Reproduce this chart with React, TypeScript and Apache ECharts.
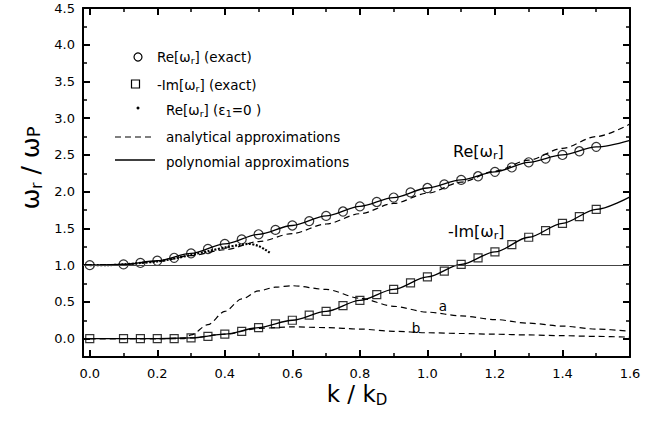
import React, { useEffect, useRef } from 'react';
import * as echarts from 'echarts';

const FONT = "'DejaVu Sans', sans-serif";
const W = 667;
const H = 422;
const X_MIN = -0.02;
const X_MAX = 1.6;
const Y_MIN = -0.25;
const Y_MAX = 4.5;

// labelled tick values
const xMajor = [0, 0.2, 0.4, 0.6, 0.8, 1.0, 1.2, 1.4, 1.6];
const yMajor = [0, 0.5, 1.0, 1.5, 2.0, 2.5, 3.0, 3.5, 4.0, 4.5];

// exact solutions
const kExact = [0, 0.1, 0.15, 0.2, 0.25, 0.3, 0.35, 0.4, 0.45, 0.5, 0.55, 0.6, 0.65, 0.7, 0.75, 0.8, 0.85, 0.9, 0.95, 1.0, 1.05, 1.1, 1.15, 1.2, 1.25, 1.3, 1.35, 1.4, 1.45, 1.5];
const reExact = [1.0, 1.01, 1.03, 1.06, 1.1, 1.16, 1.22, 1.29, 1.35, 1.42, 1.48, 1.54, 1.6, 1.67, 1.73, 1.8, 1.86, 1.92, 1.99, 2.05, 2.1, 2.16, 2.21, 2.27, 2.33, 2.4, 2.45, 2.5, 2.55, 2.61];
const imExact = [0, 0, 0, 0, 0, 0.01, 0.03, 0.06, 0.1, 0.15, 0.2, 0.25, 0.32, 0.37, 0.45, 0.52, 0.6, 0.67, 0.76, 0.84, 0.92, 1.01, 1.1, 1.18, 1.28, 1.38, 1.47, 1.57, 1.66, 1.76];

// polynomial and analytical approximations
const kFit = [0, 0.1, 0.2, 0.3, 0.4, 0.5, 0.6, 0.7, 0.8, 0.9, 1.0, 1.1, 1.2, 1.3, 1.4, 1.5, 1.6];
const rePoly = [1.0, 1.01, 1.06, 1.16, 1.29, 1.42, 1.54, 1.67, 1.8, 1.92, 2.05, 2.16, 2.27, 2.4, 2.5, 2.61, 2.7];
const imPoly = [0, 0, 0, 0.01, 0.06, 0.15, 0.25, 0.37, 0.52, 0.67, 0.84, 1.01, 1.18, 1.38, 1.57, 1.76, 1.93];
const reAnalytic = [1.0, 1.01, 1.05, 1.13, 1.21, 1.32, 1.43, 1.56, 1.7, 1.84, 1.98, 2.13, 2.28, 2.43, 2.59, 2.75, 2.92];

const kA = [0, 0.1, 0.2, 0.28, 0.3, 0.35, 0.4, 0.45, 0.5, 0.55, 0.6, 0.7, 0.8, 0.9, 1.0, 1.1, 1.2, 1.3, 1.4, 1.5, 1.6];
const imAnalyticA = [0, 0, 0, 0, 0.05, 0.19, 0.37, 0.54, 0.65, 0.7, 0.72, 0.67, 0.55, 0.44, 0.36, 0.31, 0.26, 0.21, 0.17, 0.13, 0.1];
const imAnalyticB = [0, 0, 0, 0.01, 0.06, 0.14, 0.16, 0.15, 0.13, 0.1, 0.08, 0.07, 0.06, 0.05, 0.04, 0.03, 0.02];

// Re[w] with eps1 = 0
const kEps0 = [0, 0.05, 0.1, 0.15, 0.2, 0.25, 0.3, 0.35, 0.4, 0.45, 0.47, 0.5, 0.52, 0.533];
const reEps0 = [1.0, 1.0, 1.01, 1.03, 1.05, 1.09, 1.14, 1.19, 1.24, 1.28, 1.29, 1.26, 1.21, 1.17];

const zip = (xs: number[], ys: number[]) => xs.map((x, i) => [x, ys[i]]);

const BLACK = '#000';

const frameLine = { show: true, onZero: false, lineStyle: { color: BLACK, width: 2 } };
const ticks = { show: true, inside: true, length: 7, lineStyle: { color: BLACK, width: 2 } };
const minor = { show: true, splitNumber: 2, length: 4, lineStyle: { color: BLACK, width: 1.5 } };
const axisBase = {
  type: 'value',
  splitLine: { show: false },
  minorSplitLine: { show: false },
  axisLine: frameLine,
  axisTick: ticks,
  minorTick: minor,
};
const tickLabel = (vals: number[], margin: number) => ({
  show: true,
  customValues: vals,
  formatter: (v: number) => v.toFixed(1),
  margin,
  fontSize: 13,
  fontFamily: FONT,
  color: BLACK,
});

const xAxisBase = { ...axisBase, min: X_MIN, max: X_MAX, splitNumber: 8 };
const yAxisBase = { ...axisBase, min: Y_MIN, max: Y_MAX, splitNumber: 10 };

const LEG = 13.5;
const rich13 = {
  m: { fontSize: LEG, fontFamily: FONT, fill: BLACK },
  s: { fontSize: 9.5, fontFamily: FONT, fill: BLACK, padding: [7, 0, 0, 0] },
};
const rich16 = {
  m: { fontSize: 16, fontFamily: FONT, fill: BLACK },
  s: { fontSize: 11, fontFamily: FONT, fill: BLACK, padding: [9, 0, 0, 0] },
};

const label = (x: number, y: number, text: string, rich: any, extra: any = {}) => ({
  type: 'text',
  x,
  y,
  ...extra,
  style: { text, rich, fill: BLACK, align: 'left', verticalAlign: 'middle', ...(extra.style || {}) },
});

const dashed = (data: number[][]) => ({
  type: 'line',
  data,
  smooth: 0.3,
  smoothMonotone: 'x',
  showSymbol: false,
  silent: true,
  lineStyle: { color: BLACK, width: 1.2, type: [6, 4] },
});

const option: any = {
  animation: false,
  backgroundColor: '#fff',
  grid: { left: 83, right: 37, top: 8, bottom: 65, containLabel: false },
  xAxis: [
    { ...xAxisBase, position: 'bottom', axisLabel: tickLabel(xMajor, 10) },
    { ...xAxisBase, position: 'top', axisLabel: { show: false } },
  ],
  yAxis: [
    { ...yAxisBase, position: 'left', axisLabel: tickLabel(yMajor, 8) },
    { ...yAxisBase, position: 'right', axisLabel: { show: false } },
  ],
  series: [
    {
      type: 'line',
      data: zip(kFit, rePoly),
      smooth: 0.3,
      smoothMonotone: 'x',
      showSymbol: false,
      silent: true,
      lineStyle: { color: BLACK, width: 1.3 },
      markLine: {
        silent: true,
        symbol: 'none',
        label: { show: false },
        lineStyle: { color: '#444', width: 1, type: 'solid' },
        data: [{ yAxis: 1 }],
      },
    },
    {
      type: 'line',
      data: zip(kFit, imPoly),
      smooth: 0.3,
      smoothMonotone: 'x',
      showSymbol: false,
      silent: true,
      lineStyle: { color: BLACK, width: 1.3 },
    },
    dashed(zip(kFit, reAnalytic)),
    dashed(zip(kA, imAnalyticA)),
    dashed(zip(kFit, imAnalyticB)),
    {
      type: 'line',
      data: zip(kEps0, reEps0),
      smooth: 0.3,
      showSymbol: false,
      silent: true,
      lineStyle: { color: BLACK, width: 2.2, type: [2, 1.5] },
    },
    {
      type: 'scatter',
      data: zip(kExact, reExact),
      symbol: 'circle',
      symbolSize: 9,
      silent: true,
      itemStyle: { color: 'rgba(0,0,0,0)', borderColor: BLACK, borderWidth: 1.2 },
    },
    {
      type: 'scatter',
      data: zip(kExact, imExact),
      symbol: 'rect',
      symbolSize: 8,
      silent: true,
      itemStyle: { color: 'rgba(0,0,0,0)', borderColor: BLACK, borderWidth: 1.2 },
    },
  ],
  graphic: [
    // legend
    { type: 'circle', shape: { cx: 138, cy: 57, r: 4 }, style: { fill: 'none', stroke: BLACK, lineWidth: 1.2 } },
    label(157, 57, '{m|Re[ω}{s|r}{m|] (exact)}', rich13),
    { type: 'rect', shape: { x: 131.5, y: 80, width: 8, height: 8 }, style: { fill: 'none', stroke: BLACK, lineWidth: 1.2 } },
    label(157, 85, '{m|-Im[ω}{s|r}{m|] (exact)}', rich13),
    { type: 'circle', shape: { cx: 138, cy: 108, r: 1.5 }, style: { fill: BLACK } },
    label(166, 110, '{m|Re[ω}{s|r}{m|] (ε}{s|1}{m|=0 )}', rich13),
    { type: 'line', shape: { x1: 115, y1: 137, x2: 155, y2: 137 }, style: { stroke: BLACK, lineWidth: 1.2, lineDash: [6, 4] } },
    label(166, 137, '{m|analytical approximations}', rich13),
    { type: 'line', shape: { x1: 115, y1: 160, x2: 155, y2: 160 }, style: { stroke: BLACK, lineWidth: 1.3 } },
    label(166, 162, '{m|polynomial approximations}', rich13),
    // curve labels
    label(453, 151, '{m|Re[ω}{s|r}{m|]}', rich16),
    label(448, 231, '{m|-Im[ω}{s|r}{m|]}', rich16),
    label(443, 306, '{m|a}', rich13, { style: { align: 'center' } }),
    label(416, 328, '{m|b}', rich13, { style: { align: 'center' } }),
    // axis titles
    label(357, 394, '{m|k / k}{s|D}', {
      m: { fontSize: 23, fontFamily: FONT, fill: BLACK },
      s: { fontSize: 15, fontFamily: FONT, fill: BLACK, padding: [12, 0, 0, 0] },
    }, { style: { align: 'center' } }),
    label(30, 168, '{m|ω}{s|r}{m| / ω}{p|P}', {
      m: { fontSize: 25, fontFamily: FONT, fill: BLACK },
      s: { fontSize: 15, fontFamily: FONT, fill: BLACK, padding: [13, 0, 0, 0] },
      p: { fontSize: 18, fontFamily: FONT, fill: BLACK, padding: [6, 0, 0, 0] },
    }, { rotation: Math.PI / 2, style: { align: 'center' } }),
  ],
};

export default function App() {
  const ref = useRef<HTMLDivElement>(null);
  useEffect(() => {
    if (!ref.current) return;
    const chart = echarts.init(ref.current, undefined, { renderer: 'svg' });
    chart.setOption(option);
    return () => chart.dispose();
  }, []);
  return (
    <div
      ref={ref}
      style={{ position: 'absolute', left: 0, top: 0, width: W, height: H, background: '#fff' }}
    />
  );
}
